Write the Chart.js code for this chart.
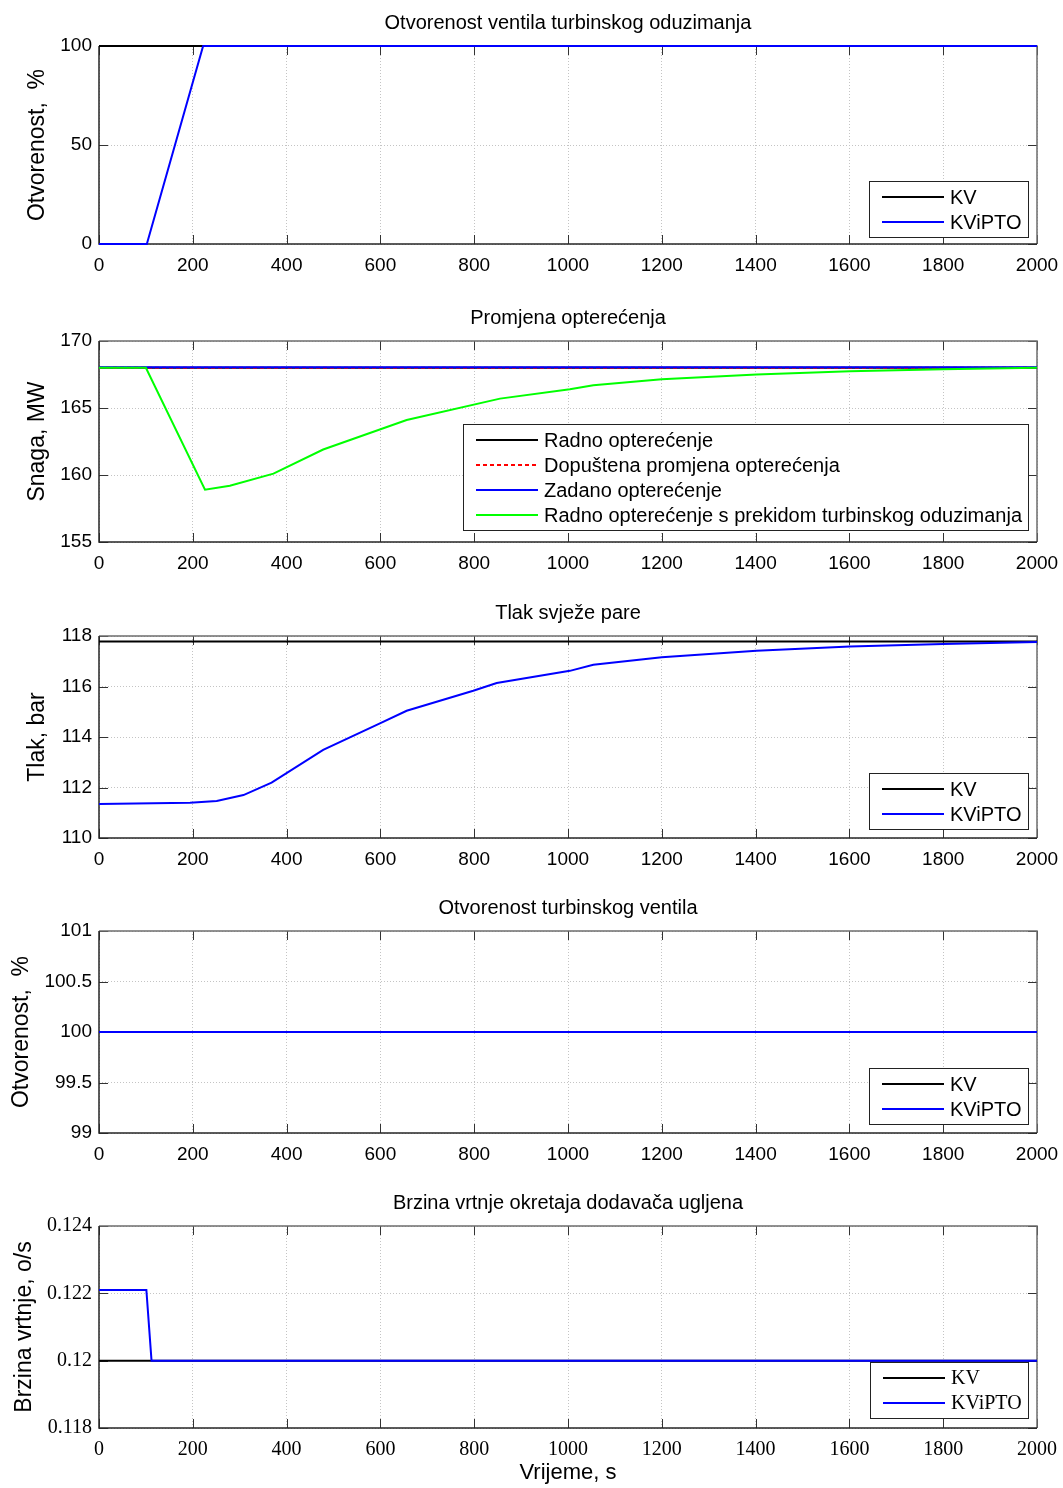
<!DOCTYPE html>
<html><head><meta charset="utf-8">
<script src="https://cdn.jsdelivr.net/npm/chart.js@4"></script>
<style>
html,body{margin:0;padding:0;background:#fff;}
#wrap{position:relative;width:1063px;height:1488px;overflow:hidden;}
canvas{position:absolute;left:0;}
</style></head><body><div id="wrap">
<canvas id="c1" width="1063" height="284" style="top:0px"></canvas>
<canvas id="c2" width="1063" height="287" style="top:295px"></canvas>
<canvas id="c3" width="1063" height="288" style="top:590px"></canvas>
<canvas id="c4" width="1063" height="288" style="top:885px"></canvas>
<canvas id="c5" width="1063" height="308" style="top:1180px"></canvas>
</div>
<script>
// ---------- shared x axis ----------
const xTickValues = [0,200,400,600,800,1000,1200,1400,1600,1800,2000];
const xTickLabels = ['0','200','400','600','800','1000','1200','1400','1600','1800','2000'];

// ---------- 1: Otvorenost ventila turbinskog oduzimanja ----------
const title1 = 'Otvorenost ventila turbinskog oduzimanja';
const yTitle1 = 'Otvorenost,  %';
const yTicks1 = [0,50,100];
const yLabels1 = ['0','50','100'];
const t1KV = [0,2000];
const v1KV = [100,100];
const t1KViPTO = [0,102,222,2000];
const v1KViPTO = [0,0,100,100];

// ---------- 2: Promjena opterećenja ----------
const title2 = 'Promjena opterećenja';
const yTitle2 = 'Snaga, MW';
const yTicks2 = [155,160,165,170];
const yLabels2 = ['155','160','165','170'];
const t2Radno = [0,2000];
const v2Radno = [168,168];
const t2Dopustena = [0,2000];
const v2Dopustena = [168,168];
const t2Zadano = [0,2000];
const v2Zadano = [168.05,168.05];
const t2Prekid = [0,100,226,279,372,478,656,855,1004,1054,1200,1402,1601,1800,2000];
const v2Prekid = [168,168,158.9,159.2,160.1,161.9,164.1,165.7,166.4,166.7,167.15,167.5,167.75,167.9,168];

// ---------- 3: Tlak svježe pare ----------
const title3 = 'Tlak svježe pare';
const yTitle3 = 'Tlak, bar';
const yTicks3 = [110,112,114,116,118];
const yLabels3 = ['110','112','114','116','118'];
const t3KV = [0,2000];
const v3KV = [117.78,117.78];
const t3KViPTO = [0,194,251,308,368,478,599,656,798,848,1004,1054,1200,1402,1601,1800,2000];
const v3KViPTO = [111.35,111.4,111.47,111.7,112.19,113.49,114.54,115.04,115.83,116.14,116.62,116.86,117.16,117.42,117.58,117.68,117.76];

// ---------- 4: Otvorenost turbinskog ventila ----------
const title4 = 'Otvorenost turbinskog ventila';
const yTitle4 = 'Otvorenost,  %';
const yTicks4 = [99,99.5,100,100.5,101];
const yLabels4 = ['99','99.5','100','100.5','101'];
const t4KV = [0,2000];
const v4KV = [100,100];
const t4KViPTO = [0,2000];
const v4KViPTO = [100,100];

// ---------- 5: Brzina vrtnje okretaja dodavača ugljena ----------
const title5 = 'Brzina vrtnje okretaja dodavača ugljena';
const yTitle5 = 'Brzina vrtnje, o/s';
const xTitle5 = 'Vrijeme, s';
const yTicks5 = [0.118,0.12,0.122,0.124];
const yLabels5 = ['0.118','0.12','0.122','0.124'];
const t5KV = [0,2000];
const v5KV = [0.12,0.12];
const t5KViPTO = [0,101,112,2000];
const v5KViPTO = [0.1221,0.1221,0.12,0.12];

// ---------- helpers ----------
const SANS = '"Liberation Sans", Arial, sans-serif';
const SERIF = '"Liberation Serif", "Times New Roman", serif';
const zip = (t, v) => t.map((x, i) => ({x: x, y: v[i]}));
function ds(label, t, v, color, order, dash) {
  return {label: label, data: zip(t, v), borderColor: color, backgroundColor: color,
    borderWidth: 2, pointRadius: 0, tension: 0, fill: false, order: order,
    borderDash: dash || [], clip: false};
}

const framePlugin = {
  id: 'frame',
  beforeDatasetsDraw(chart) {
    const {ctx, chartArea: a, scales: {x, y}} = chart;
    const tl = 9;
    ctx.save();
    ctx.lineWidth = 1;
    ctx.strokeStyle = '#333';
    ctx.beginPath();
    x.ticks.forEach(t => {
      const px = Math.round(x.getPixelForValue(t.value)) + 0.5;
      ctx.moveTo(px, a.bottom); ctx.lineTo(px, a.bottom - tl);
      ctx.moveTo(px, a.top); ctx.lineTo(px, a.top + tl);
    });
    y.ticks.forEach(t => {
      const py = Math.round(y.getPixelForValue(t.value)) + 0.5;
      ctx.moveTo(a.left, py); ctx.lineTo(a.left + tl, py);
      ctx.moveTo(a.right, py); ctx.lineTo(a.right - tl, py);
    });
    ctx.stroke();
    ctx.lineWidth = 1.5;
    ctx.strokeStyle = '#6e6e6e';
    ctx.beginPath();
    ctx.moveTo(a.left, a.top); ctx.lineTo(a.right, a.top); ctx.lineTo(a.right, a.bottom);
    ctx.stroke();
    ctx.strokeStyle = '#262626';
    ctx.beginPath();
    ctx.moveTo(a.left, a.top); ctx.lineTo(a.left, a.bottom); ctx.lineTo(a.right, a.bottom);
    ctx.stroke();
    ctx.restore();
  }
};

const plotTitle = {
  id: 'plotTitle',
  afterDraw(chart, args, opts) {
    const {ctx, chartArea: a} = chart;
    ctx.save();
    ctx.font = '20px ' + SANS;
    ctx.fillStyle = '#000';
    ctx.textAlign = 'center';
    ctx.textBaseline = 'middle';
    ctx.fillText(opts.text, (a.left + a.right) / 2, a.top - 23);
    ctx.restore();
  }
};

const boxLegend = {
  id: 'boxLegend',
  afterDraw(chart, args, opts) {
    const {ctx, chartArea: a} = chart;
    const items = chart.data.datasets;
    ctx.save();
    ctx.font = opts.font;
    const tw = Math.max(...items.map(d => ctx.measureText(d.label).width));
    const w = Math.round(81 + tw + 6), h = items.length * 25 + 6;
    const x0 = Math.round(a.right - 9 - w), y0 = Math.round(a.bottom - opts.inset - h);
    ctx.fillStyle = '#fff';
    ctx.fillRect(x0, y0, w, h);
    ctx.strokeStyle = '#222';
    ctx.lineWidth = 1;
    ctx.strokeRect(x0 + 0.5, y0 + 0.5, w, h);
    items.forEach((d, i) => {
      const yy = y0 + 16 + i * 25;
      ctx.strokeStyle = d.borderColor;
      ctx.lineWidth = 2;
      ctx.setLineDash(d.borderDash || []);
      ctx.beginPath();
      ctx.moveTo(x0 + 13, yy); ctx.lineTo(x0 + 75, yy);
      ctx.stroke();
      ctx.setLineDash([]);
      ctx.fillStyle = '#000';
      ctx.textBaseline = 'middle';
      ctx.textAlign = 'left';
      ctx.fillText(d.label, x0 + 81, yy + 1);
    });
    ctx.restore();
  }
};

function makeChart(id, c) {
  const tickFont = {family: c.tickFamily || SANS, size: c.tickSize || 19};
  return new Chart(document.getElementById(id), {
    type: 'line',
    data: {datasets: c.datasets},
    plugins: [framePlugin, plotTitle, boxLegend],
    options: {
      responsive: false,
      animation: false,
      events: [],
      layout: {padding: {top: 46, left: c.pl, right: 26, bottom: c.pb || 0}},
      plugins: {
        legend: {display: false},
        tooltip: {enabled: false},
        plotTitle: {text: c.title},
        boxLegend: {font: c.legendFont, inset: c.inset}
      },
      scales: {
        x: {
          type: 'linear', min: 0, max: 2000,
          afterBuildTicks: s => { s.ticks = xTickValues.map(v => ({value: v})); },
          afterFit: s => { s.height = c.xh; s.paddingLeft = 0; s.paddingRight = 0; },
          ticks: {color: '#000', font: tickFont, padding: 10, maxRotation: 0, autoSkip: false,
            callback: (v, i) => xTickLabels[i]},
          grid: {color: '#c4c4c4', lineWidth: 1, drawTicks: false},
          border: {display: false, dash: [1, 2]},
          title: c.xTitle ? {display: true, text: c.xTitle, color: '#000',
            font: {family: SANS, size: 22}, padding: {top: 0, bottom: 2}} : {display: false}
        },
        y: {
          type: 'linear', min: c.yMin, max: c.yMax,
          afterBuildTicks: s => { s.ticks = c.yTicks.map(v => ({value: v})); },
          afterFit: s => { s.width = 99 - c.pl; s.paddingTop = 0; s.paddingBottom = 0; },
          ticks: {color: '#000', font: tickFont, padding: 7, autoSkip: false,
            callback: (v, i) => c.yLabels[i]},
          grid: {color: '#c4c4c4', lineWidth: 1, drawTicks: false},
          border: {display: false, dash: [1, 2]},
          title: {display: true, text: c.yTitle, color: '#000',
            font: {family: SANS, size: 23}, padding: {top: c.yTitlePad, bottom: 0}}
        }
      }
    }
  });
}

const legendSans = '20px ' + SANS;
const legendSerif = '20px ' + SERIF;

makeChart('c1', {
  title: title1, yTitle: yTitle1, yMin: 0, yMax: 100, yTicks: yTicks1, yLabels: yLabels1,
  pl: 10, yTitlePad: 14, xh: 40, legendFont: legendSans, inset: 7,
  datasets: [
    ds('KV', t1KV, v1KV, '#000000', 1),
    ds('KViPTO', t1KViPTO, v1KViPTO, '#0000ff', 0)
  ]
});

makeChart('c2', {
  title: title2, yTitle: yTitle2, yMin: 155, yMax: 170, yTicks: yTicks2, yLabels: yLabels2,
  pl: 10, yTitlePad: 14, xh: 40, legendFont: legendSans, inset: 12,
  datasets: [
    ds('Radno opterećenje', t2Radno, v2Radno, '#000000', 3),
    ds('Dopuštena promjena opterećenja', t2Dopustena, v2Dopustena, '#ff0000', 2, [4, 3]),
    ds('Zadano opterećenje', t2Zadano, v2Zadano, '#0000ff', 1),
    ds('Radno opterećenje s prekidom turbinskog oduzimanja', t2Prekid, v2Prekid, '#00ff00', 0)
  ]
});

makeChart('c3', {
  title: title3, yTitle: yTitle3, yMin: 110, yMax: 118, yTicks: yTicks3, yLabels: yLabels3,
  pl: 10, yTitlePad: 14, xh: 40, legendFont: legendSans, inset: 9,
  datasets: [
    ds('KV', t3KV, v3KV, '#000000', 1),
    ds('KViPTO', t3KViPTO, v3KViPTO, '#0000ff', 0)
  ]
});

makeChart('c4', {
  title: title4, yTitle: yTitle4, yMin: 99, yMax: 101, yTicks: yTicks4, yLabels: yLabels4,
  pl: 0, yTitlePad: 8, xh: 40, legendFont: legendSans, inset: 9,
  datasets: [
    ds('KV', t4KV, v4KV, '#000000', 1),
    ds('KViPTO', t4KViPTO, v4KViPTO, '#0000ff', 0)
  ]
});

makeChart('c5', {
  title: title5, yTitle: yTitle5, xTitle: xTitle5, yMin: 0.118, yMax: 0.124, yTicks: yTicks5, yLabels: yLabels5,
  pl: 0, yTitlePad: 11, xh: 60, pb: 0, tickFamily: SERIF, tickSize: 20, legendFont: legendSerif, inset: 10,
  datasets: [
    ds('KV', t5KV, v5KV, '#000000', 1),
    ds('KViPTO', t5KViPTO, v5KViPTO, '#0000ff', 0)
  ]
});
</script>
</body></html>
